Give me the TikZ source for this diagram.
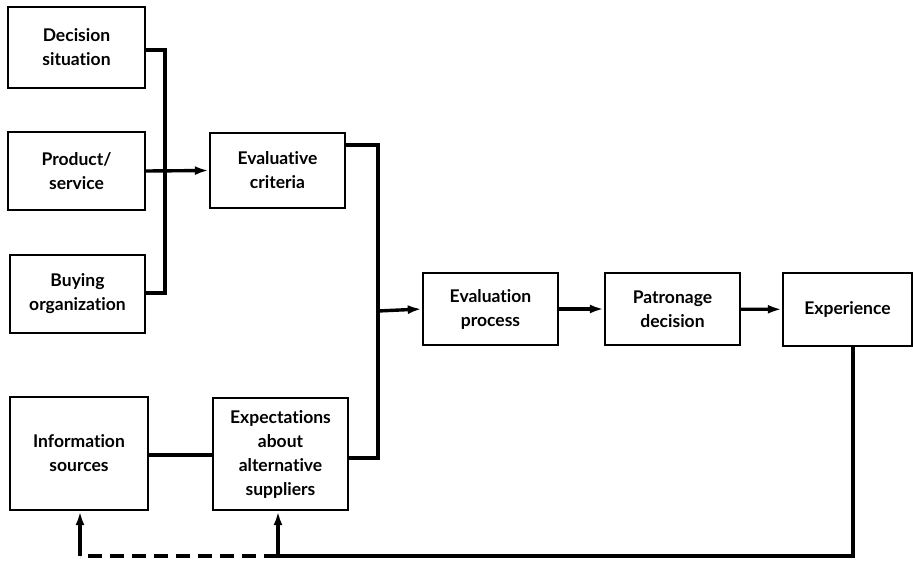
\documentclass[tikz,border=0pt]{standalone}
\usepackage{fontspec}
\setmainfont{Lato}[Ligatures=NoCommon]
\usetikzlibrary{arrows.meta}
\begin{document}
\begin{tikzpicture}[x=1pt,y=-1pt,
  box/.style={draw,line width=2.4pt,rectangle,align=center,inner sep=2pt,
    font=\fontsize{17.5}{24}\selectfont\bfseries},
  conn/.style={line width=3.4pt},
  arr/.style={line width=3.4pt,-{Latex[length=14pt,width=9pt]}},
]
\useasboundingbox (0,0) rectangle (913,560);
\node[box,minimum width=137pt,minimum height=81pt] (ds) at (76.5,47.5) {Decision\\situation};
\node[box,minimum width=137pt,minimum height=78pt] (ps) at (76.5,171) {Product/\\service};
\node[box,minimum width=135pt,minimum height=78pt] (bo) at (77.5,294) {Buying\\organization};
\node[box,minimum width=135pt,minimum height=75pt] (ec) at (277.5,170.5) {Evaluative\\criteria};
\node[box,minimum width=138pt,minimum height=113pt] (is) at (79,453.5) {Information\\sources};
\node[box,minimum width=135pt,minimum height=112pt] (ex) at (280.5,454) {Expectations\\about\\alternative\\suppliers};
\node[box,minimum width=135pt,minimum height=72pt] (ep) at (490.5,309) {Evaluation\\process};
\node[box,minimum width=135pt,minimum height=72pt] (pd) at (672.5,309) {Patronage\\decision};
\node[box,minimum width=129pt,minimum height=73pt] (xp) at (847.5,309.5) {Experience};
% left merge
\draw[conn] (ds.east |- 0,50) -- (165,50) -- (165,293) -- (bo.east |- 0,293);
\draw[arr] (ps.east) -- (ec.west);
% right merge
\coordinate (m) at (378,311);
\draw[conn] (ec.east |- 0,145) -| (m);
\draw[conn] (ex.east |- 0,458) -| (m);
\draw[arr] (m) -- (ep.west);
\draw[arr] (ep) -- (pd);
\draw[arr] (pd) -- (xp);
\draw[conn] (is.east |- 0,455) -- (ex.west |- 0,455);
% feedback
\coordinate (j) at (278,556);
\coordinate (k) at (80,556);
\draw[conn] (xp.south -| 853,0) |- (j);
\draw[arr] (j) -- (ex.south -| j);
\draw[conn,dash pattern=on 14pt off 8pt] (j) -- (k);
\draw[arr] (k) -- (is.south -| k);
\end{tikzpicture}
\end{document}
